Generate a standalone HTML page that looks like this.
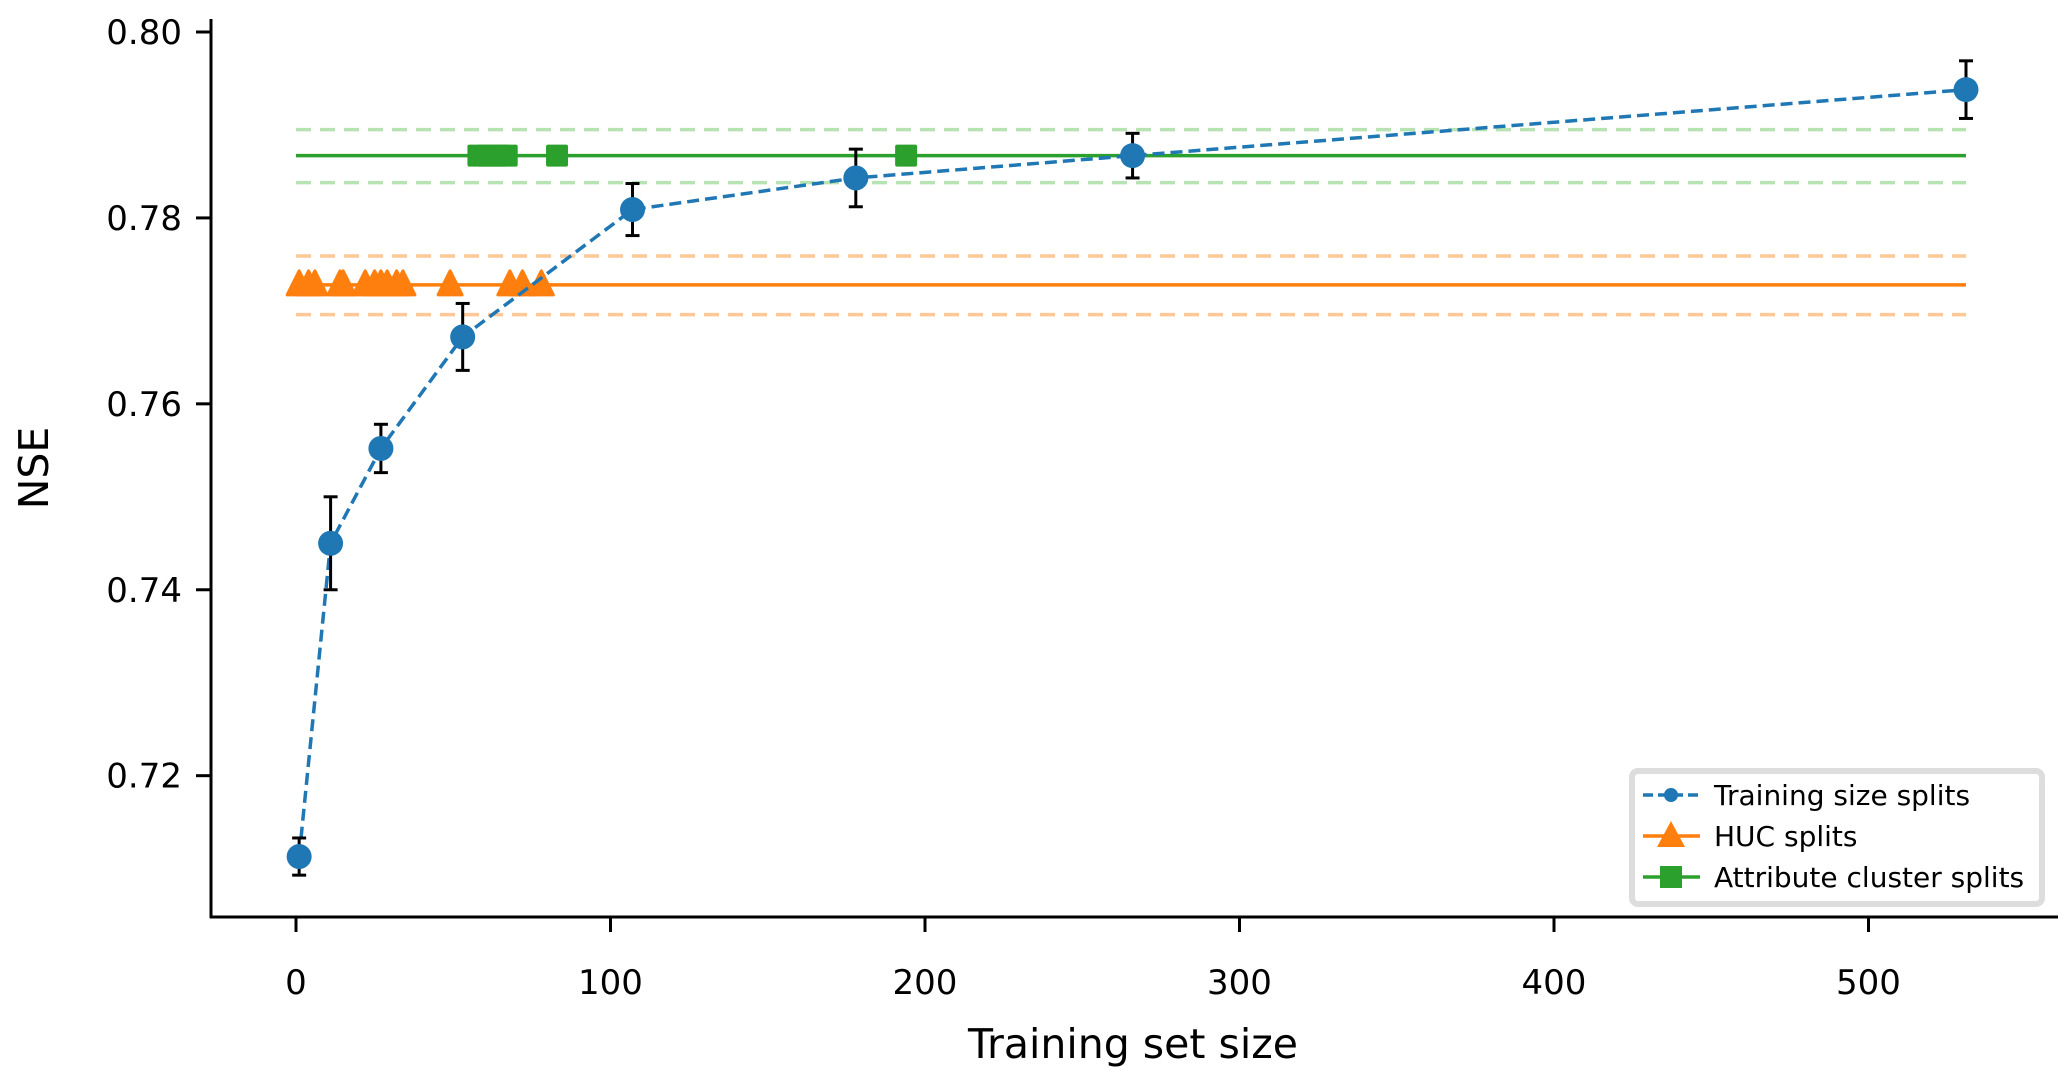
<!DOCTYPE html>
<html><head><meta charset="utf-8"><style>
html,body{margin:0;padding:0;background:#fff;}
svg{display:block;font-family:"DejaVu Sans","Liberation Sans",sans-serif;}
</style></head><body>
<svg id="chart" width="2067" height="1082" viewBox="0 0 2067 1082" xmlns="http://www.w3.org/2000/svg">
</svg>
<script>
const trainX=[1,11,27,53,107,178,266,531];
const trainY=[0.7113,0.745,0.7552,0.7672,0.7809,0.7843,0.7867,0.7938];
const trainErr=[0.002,0.005,0.0026,0.0036,0.0028,0.0031,0.0024,0.0031];
const hucX=[1,4,6,14,15,22,25,27,29,32,34,49,68,72,78];
const hucMean=0.7728, hucLo=0.7696, hucHi=0.7759;
const attrX=[58,61,64,67,83,194];
const attrMean=0.7867, attrLo=0.7838, attrHi=0.7895;
const lineXMin=0, lineXMax=531;
const xTicks=[0,100,200,300,400,500];
const yTicks=[0.72,0.74,0.76,0.78,0.80];
const yTickLabels=["0.72","0.74","0.76","0.78","0.80"];

const NS="http://www.w3.org/2000/svg";
const svg=document.getElementById('chart');
const X=v=>296+v*3.145;
const Y=v=>32+(0.80-v)*9296;
function mk(tag,attrs,parent){const e=document.createElementNS(NS,tag);for(const k in attrs)e.setAttribute(k,attrs[k]);(parent||svg).appendChild(e);return e;}

[[hucLo,'#ffbf86'],[hucHi,'#ffbf86'],[attrLo,'#abdda4'],[attrHi,'#abdda4']].forEach(([v,c],i)=>{
  const l=mk('line',{x1:X(lineXMin),x2:X(lineXMax),y1:Y(v),y2:Y(v),stroke:c,'stroke-width':3.5,'stroke-dasharray':'15 9','opacity':0.85});
  
  
});
const hl=mk('line',{x1:X(lineXMin),x2:X(lineXMax),y1:Y(hucMean),y2:Y(hucMean),stroke:'#ff7f0e','stroke-width':3.5});


const al=mk('line',{x1:X(lineXMin),x2:X(lineXMax),y1:Y(attrMean),y2:Y(attrMean),stroke:'#2ca02c','stroke-width':3.5});


hucX.forEach(v=>{
  const cx=X(v),cy=Y(hucMean);
  const t=mk('polygon',{points:`${cx},${cy-14} ${cx-12},${cy+10} ${cx+12},${cy+10}`,fill:'#ff7f0e',stroke:'#ff7f0e','stroke-width':3,'stroke-linejoin':'round'});
  
  
});
attrX.forEach(v=>{
  const cx=X(v),cy=Y(attrMean);
  const s=mk('rect',{x:cx-11,y:cy-11,width:22,height:22,rx:2,fill:'#2ca02c'});
  
  
});
const pl=mk('polyline',{points:trainX.map((v,i)=>X(v)+','+Y(trainY[i])).join(' '),fill:'none',stroke:'#1f77b4','stroke-width':3.5,'stroke-dasharray':'12 6'});


trainX.forEach((v,i)=>{
  const cx=X(v),y1=Y(trainY[i]+trainErr[i]),y2=Y(trainY[i]-trainErr[i]);
  const g=mk('g',{});
  
  
  mk('line',{x1:cx,x2:cx,y1:y1,y2:y2,stroke:'#000','stroke-width':3},g);
  mk('line',{x1:cx-7,x2:cx+7,y1:y1,y2:y1,stroke:'#000','stroke-width':3},g);
  mk('line',{x1:cx-7,x2:cx+7,y1:y2,y2:y2,stroke:'#000','stroke-width':3},g);
});
trainX.forEach((v,i)=>{
  const c=mk('circle',{cx:X(v),cy:Y(trainY[i]),r:12.5,fill:'#1f77b4'});
  
  
});
const ya=mk('line',{x1:211,x2:211,y1:19,y2:918,stroke:'#000','stroke-width':3});


const xa=mk('line',{x1:210,x2:2058,y1:917,y2:917,stroke:'#000','stroke-width':3});


yTicks.forEach((v,i)=>{
  mk('line',{x1:196,x2:211,y1:Y(v),y2:Y(v),stroke:'#000','stroke-width':3});
  const t=mk('text',{x:182,y:Y(v)+12,'text-anchor':'end','font-size':34,fill:'#000'});
  t.textContent=yTickLabels[i];
  
  
});
xTicks.forEach(v=>{
  mk('line',{x1:X(v),x2:X(v),y1:917,y2:932,stroke:'#000','stroke-width':3});
  const t=mk('text',{x:X(v),y:994,'text-anchor':'middle','font-size':34,fill:'#000'});
  t.textContent=String(v);
  
  
});
const xt=mk('text',{x:1133,y:1058,'text-anchor':'middle','font-size':41,fill:'#000'});
xt.textContent='Training set size';


const yt=mk('text',{x:0,y:0,'text-anchor':'middle','font-size':41,fill:'#000',transform:'translate(48,468) rotate(-90)'});
yt.textContent='NSE';


const lg=mk('g',{});


mk('rect',{x:1632,y:771,width:410,height:133,rx:6,fill:'#fff',stroke:'#dddddd','stroke-width':6},lg);
const rows=[['Training size splits','#1f77b4','c',795],['HUC splits','#ff7f0e','t',836],['Attribute cluster splits','#2ca02c','s',877]];
rows.forEach(([lab,c,m,y])=>{
  const e=mk('g',{},lg);
  
  
  mk('line',{x1:1643,x2:1700,y1:y,y2:y,stroke:c,'stroke-width':3.5,'stroke-dasharray':m==='c'?'10 5':'none'},e);
  if(m==='c')mk('circle',{cx:1671,cy:y,r:7,fill:c},e);
  if(m==='t')mk('polygon',{points:`1671,${y-15} 1657,${y+11} 1685,${y+11}`,fill:c},e);
  if(m==='s')mk('rect',{x:1660,y:y-11,width:22,height:22,fill:c},e);
  const t=mk('text',{x:1714,y:y+10,'font-size':28,fill:'#000'},e);
  t.textContent=lab;
});
</script>
</body></html>
